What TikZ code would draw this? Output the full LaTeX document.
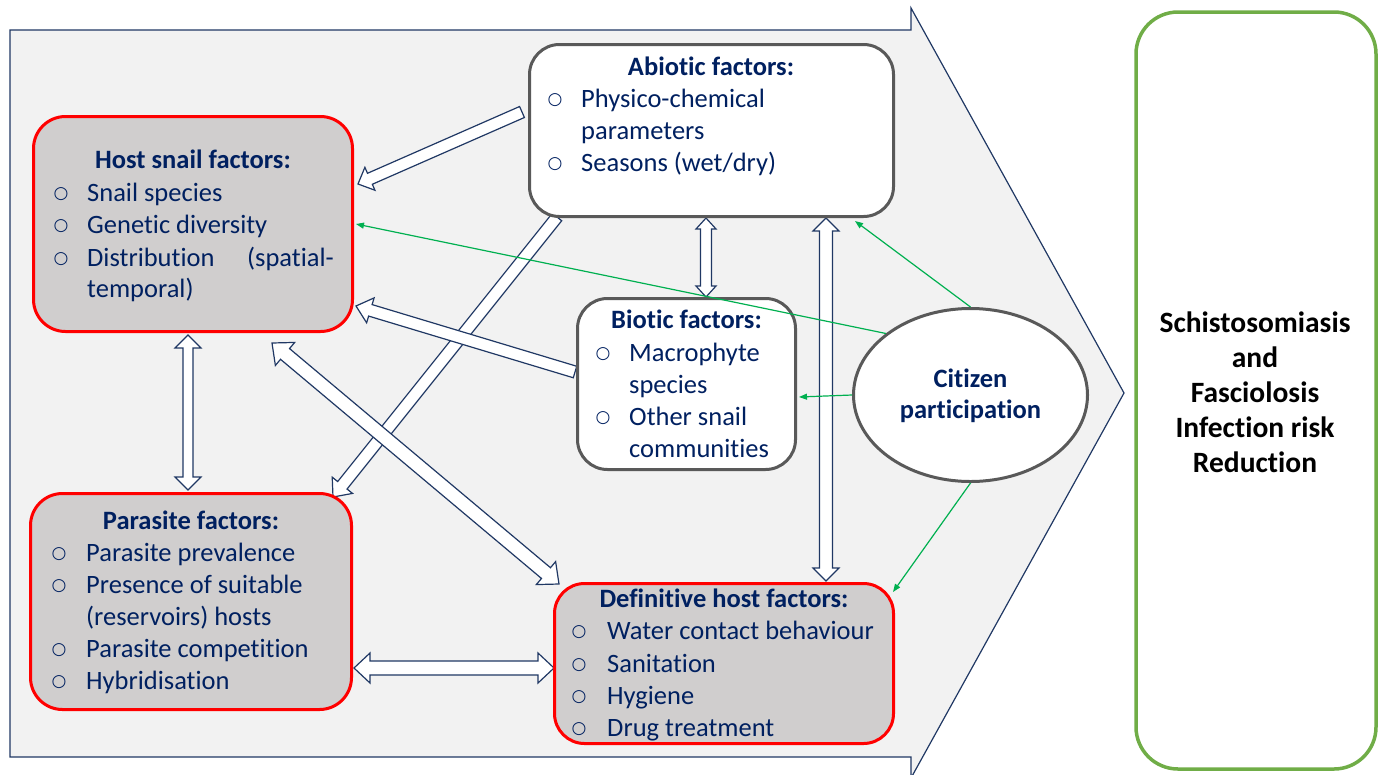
\documentclass[tikz,border=0pt]{standalone}
\usepackage{fontspec}
\setmainfont{Carlito}[Ligatures={NoCommon}]
\newfontfamily\bulfont{DejaVu Sans}
\usetikzlibrary{calc,arrows.meta,shapes.geometric}
\definecolor{navy}{HTML}{002060}
\definecolor{arrnavy}{HTML}{203864}
\definecolor{bgrey}{HTML}{F2F2F2}
\definecolor{boxgrey}{HTML}{D0CECE}
\definecolor{edgegrey}{HTML}{595959}
\definecolor{citgreen}{HTML}{00B050}
\definecolor{boxgreen}{HTML}{70AD47}
% single block arrow: tail, tip, shaft half width, head half width, head length
\newcommand{\sarrow}[5]{%
  \coordinate (tmpH) at ($(#2)!#5!(#1)$);
  \draw[blockarrow] ($(#1)!#3!90:(#2)$) -- ($(tmpH)!#3!90:(#2)$) -- ($(tmpH)!#4!90:(#2)$) -- (#2)
    -- ($(tmpH)!#4!-90:(#2)$) -- ($(tmpH)!#3!-90:(#2)$) -- ($(#1)!#3!-90:(#2)$) -- cycle;}
% double block arrow
\newcommand{\darrow}[5]{%
  \coordinate (tmpA) at ($(#1)!#5!(#2)$);
  \coordinate (tmpB) at ($(#2)!#5!(#1)$);
  \draw[blockarrow] (#1) -- ($(tmpA)!#4!90:(#2)$) -- ($(tmpA)!#3!90:(#2)$) -- ($(tmpB)!#3!90:(#2)$)
    -- ($(tmpB)!#4!90:(#2)$) -- (#2) -- ($(tmpB)!#4!-90:(#2)$) -- ($(tmpB)!#3!-90:(#2)$)
    -- ($(tmpA)!#3!-90:(#2)$) -- ($(tmpA)!#4!-90:(#2)$) -- cycle;}
\newcommand{\bitem}[5]{\node[bul] (#1o) at (#2,#4-3) {○}; \node[itm] (#1) at (#3,#4) {#5};}
\newcommand{\pitem}[4]{\node[itm] (#1) at (#2,#3) {#4};}
\begin{document}
\begin{tikzpicture}[x=1pt,y=-1pt,
  redbox/.style={draw=red, line width=3pt, fill=boxgrey, rounded corners=32pt, inner sep=0pt},
  whitebox/.style={draw=edgegrey, line width=3pt, fill=white, rounded corners=30pt, inner sep=0pt},
  blockarrow/.style={draw=arrnavy, line width=1.2pt, fill=white, line join=miter},
  greenarrow/.style={draw=citgreen, line width=1.2pt, -{Triangle[length=8pt,width=6pt]}},
  ttl/.style={font=\fontsize{26.5}{32}\selectfont\bfseries, text=navy, inner sep=0pt, anchor=base},
  itm/.style={font=\fontsize{26.5}{32}\selectfont, text=navy, inner sep=0pt, anchor=base west},
  bul/.style={font=\bulfont\fontsize{17}{20}\selectfont, text=navy, inner sep=0pt, anchor=base},
  rtxt/.style={font=\fontsize{29.5}{35}\selectfont\bfseries, text=black, inner sep=0pt, anchor=base}
]
\useasboundingbox (0,0) rectangle (1380,774);
% big background arrow
\draw[draw=arrnavy, line width=1.2pt, fill=bgrey] (10,30) -- (911,30) -- (911,8) -- (1124,393)
  -- (911,778) -- (911,757) -- (10,757) -- cycle;
% result box
\node[draw=boxgreen, line width=3.5pt, rounded corners=42pt, minimum width=240pt, minimum height=757pt, inner sep=0pt] (res) at (1256,390.5) {};
% connector end points
\coordinate (abL) at (522,112);  \coordinate (hsR1) at (358,184);
\coordinate (abB1) at (706,218); \coordinate (bfT) at (706,297);
\coordinate (abB2) at (826,218); \coordinate (dhT) at (826,581);
\coordinate (abB3) at (557,217); \coordinate (pfT) at (333,497);
\coordinate (bfL) at (575,372);  \coordinate (hsR2) at (356,306);
\coordinate (hsB) at (188,335);  \coordinate (pfTop) at (188,490);
\coordinate (pfR) at (354,668);  \coordinate (dhL) at (554,668);
\coordinate (hsBR) at (272,343); \coordinate (dhTL) at (559,584);
% block arrows
\sarrow{abL}{hsR1}{6pt}{12.5pt}{13pt}
\darrow{abB1}{bfT}{5.5pt}{10pt}{11pt}
\darrow{abB2}{dhT}{6.5pt}{13pt}{13pt}
\sarrow{abB3}{pfT}{6pt}{13pt}{15pt}
\sarrow{bfL}{hsR2}{6pt}{13pt}{15pt}
\darrow{hsB}{pfTop}{5pt}{13pt}{13pt}
\darrow{pfR}{dhL}{7pt}{15pt}{16pt}
\darrow{hsBR}{dhTL}{7pt}{15pt}{17pt}
% boxes
\node[redbox, minimum width=319pt, minimum height=215pt] (hs) at (193,224) {};
\node[whitebox, minimum width=364pt, minimum height=172pt] (ab) at (711.5,130.5) {};
\node[whitebox, minimum width=218pt, minimum height=171pt] (bf) at (686.5,384) {};
\node[redbox, minimum width=321pt, minimum height=216pt] (pf) at (191,601.5) {};
\node[redbox, minimum width=339pt, minimum height=160pt, rounded corners=30pt] (dh) at (724,663.5) {};
\node[ellipse, draw=edgegrey, line width=3pt, fill=white, minimum width=234pt, minimum height=173pt, inner sep=0pt] (cp) at (970.5,395) {};
% host snail text
\node[ttl] (hst) at (193,168) {Host snail factors:};
\bitem{hs1}{61}{87}{201}{Snail species}
\bitem{hs2}{61}{87}{233}{Genetic diversity}
\bitem{hs3}{61}{87}{266}{Distribution}
\node[itm, anchor=base east] (hs3b) at (334,266) {(spatial-};
\pitem{hs4}{87}{297}{temporal)}
% abiotic text
\node[ttl] (abt) at (711,75) {Abiotic factors:};
\bitem{ab1}{555}{581}{107}{Physico-chemical}
\pitem{ab2}{581}{139}{parameters}
\bitem{ab3}{555}{581}{171}{Seasons (wet/dry)}
% biotic text
\node[ttl] (bft) at (686.5,328) {Biotic factors:};
\bitem{bf1}{603}{629}{361}{Macrophyte}
\pitem{bf2}{629}{393}{species}
\bitem{bf3}{603}{629}{425}{Other snail}
\pitem{bf4}{629}{457}{communities}
% citizen text
\node[ttl] (cpt1) at (970.5,387) {Citizen};
\node[ttl] (cpt2) at (970.5,418) {participation};
% parasite text
\node[ttl] (pft) at (191,529) {Parasite factors:};
\bitem{pf1}{59}{86}{561}{Parasite prevalence}
\bitem{pf2}{59}{86}{593}{Presence of suitable}
\pitem{pf3}{86}{625}{(reservoirs) hosts}
\bitem{pf4}{59}{86}{657}{Parasite competition}
\bitem{pf5}{59}{86}{689}{Hybridisation}
% definitive host text
\node[ttl] (dht) at (724,607) {Definitive host factors:};
\bitem{dh1}{579}{607}{639}{Water contact behaviour}
\bitem{dh2}{579}{607}{672}{Sanitation}
\bitem{dh3}{579}{607}{704}{Hygiene}
\bitem{dh4}{579}{607}{736}{Drug treatment}
% result text
\node[rtxt] (r1) at (1255,332) {Schistosomiasis};
\node[rtxt] (r2) at (1255,367) {and};
\node[rtxt] (r3) at (1255,402) {Fasciolosis};
\node[rtxt] (r4) at (1255,437) {Infection risk};
\node[rtxt] (r5) at (1255,472) {Reduction};
% green arrows
\coordinate (gAb) at (855,221);
\coordinate (gHs) at (356,224);
\coordinate (gBf) at (799,397);
\coordinate (gDh) at (893,592);
\draw[greenarrow] (cp.north) -- (gAb);
\draw[greenarrow] (cp.144) -- (gHs);
\draw[greenarrow] (cp.west) -- (gBf);
\draw[greenarrow] (cp.south) -- (gDh);
\end{tikzpicture}
\end{document}
